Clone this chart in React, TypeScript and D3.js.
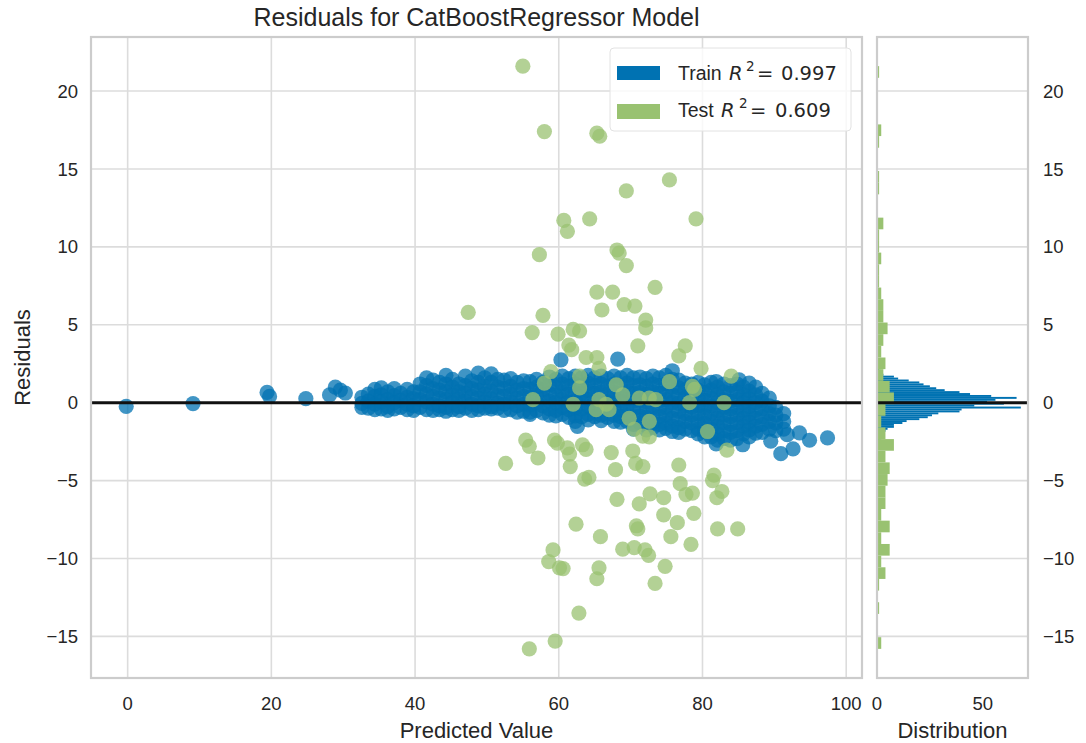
import React from "react";
import * as d3 from "d3";

// residuals: [predicted value, [residuals...]]
const trainColumns: [number, number[]][] = [
  [-0.2, [-0.24]], [9.1, [-0.06]], [19.4, [0.66]], [19.75, [0.4]], [24.8, [0.26]],
  [28.1, [0.5]], [28.9, [1.0]], [29.6, [0.8]], [30.3, [0.62]],
  [32.6, [0.35, -0.05, -0.3]],
  [33.5, [0.55, 0.1, -0.35]],
  [34.4, [0.85, 0.4, -0.1, -0.45]],
  [35.3, [0.95, 0.5, 0.05, -0.4]],
  [36.2, [0.7, 0.2, -0.25, -0.5]],
  [37.1, [0.9, 0.45, 0.0, -0.4]],
  [38.0, [0.6, 0.15, -0.3]],
  [38.9, [0.85, 0.35, -0.1, -0.45]],
  [39.8, [0.7, 0.25, -0.2, -0.5]],
  [40.7, [1.2, 0.7, 0.2, -0.3]],
  [41.6, [1.6, 1.1, 0.55, 0.05, -0.45]],
  [42.5, [1.45, 0.9, 0.4, -0.1, -0.5]],
  [43.4, [1.3, 0.8, 0.3, -0.2, -0.45]],
  [44.3, [1.75, 1.2, 0.7, 0.2, -0.3, -0.55]],
  [45.2, [1.5, 1.0, 0.5, 0.0, -0.45]],
  [46.1, [1.2, 0.7, 0.25, -0.25, -0.5]],
  [47.0, [1.7, 1.1, 0.6, 0.1, -0.35]],
  [47.9, [1.4, 0.9, 0.4, -0.1, -0.5]],
  [48.8, [1.9, 1.3, 0.8, 0.3, -0.2, -0.45]],
  [49.7, [1.6, 1.05, 0.55, 0.05, -0.35]],
  [50.6, [1.85, 1.3, 0.75, 0.25, -0.25, -0.4]],
  [51.5, [1.5, 1.0, 0.45, -0.05, -0.35]],
  [52.4, [1.45, 0.9, 0.4, -0.1, -0.5]],
  [53.3, [1.55, 1.05, 0.55, 0.05, -0.45]],
  [54.2, [1.3, 0.8, 0.3, -0.2, -0.6]],
  [55.1, [1.4, 0.9, 0.4, -0.1, -0.55]],
  [56.0, [1.35, 0.85, 0.35, -0.15, -0.6, -0.75]],
  [56.9, [1.5, 1.0, 0.5, 0.0, -0.5]],
  [57.8, [1.3, 0.8, 0.3, -0.2, -0.65]],
  [58.7, [1.65, 1.15, 0.6, 0.1, -0.4, -0.8]],
  [59.6, [1.5, 1.0, 0.5, 0.0, -0.5, -0.85]],
  [60.3, [2.75]],
  [60.5, [1.7, 1.2, 0.7, 0.2, -0.3, -0.75]],
  [61.4, [1.55, 1.05, 0.55, 0.05, -0.45, -0.95]],
  [62.3, [1.7, 1.2, 0.65, 0.15, -0.35, -0.85, -1.2]],
  [62.6, [-1.52]],
  [63.2, [1.6, 1.1, 0.6, 0.1, -0.4, -0.9]],
  [64.1, [1.75, 1.25, 0.75, 0.25, -0.25, -0.75, -1.1]],
  [65.0, [1.6, 1.1, 0.6, 0.1, -0.4, -0.9]],
  [65.9, [1.7, 1.2, 0.7, 0.2, -0.3, -0.8, -1.15]],
  [66.8, [1.55, 1.05, 0.55, 0.05, -0.45, -0.95]],
  [67.7, [1.7, 1.2, 0.7, 0.2, -0.3, -0.8, -1.2]],
  [68.2, [2.8]],
  [68.6, [1.6, 1.1, 0.6, 0.1, -0.4, -0.9, -1.25]],
  [69.5, [1.75, 1.25, 0.75, 0.25, -0.25, -0.75, -1.2]],
  [70.4, [1.6, 1.1, 0.6, 0.1, -0.4, -0.9, -1.4, -1.7]],
  [71.3, [1.65, 1.15, 0.65, 0.15, -0.35, -0.85, -1.3]],
  [72.2, [1.55, 1.05, 0.55, 0.05, -0.45, -0.95, -1.5, -1.75]],
  [73.1, [1.7, 1.2, 0.7, 0.2, -0.3, -0.8, -1.3, -1.6]],
  [74.0, [1.6, 1.1, 0.6, 0.1, -0.4, -0.9, -1.4, -1.75]],
  [74.9, [1.75, 1.2, 0.7, 0.2, -0.3, -0.8, -1.3, -1.65]],
  [75.8, [2.05, 1.5, 1.0, 0.5, 0.0, -0.5, -1.0, -1.5, -1.85]],
  [76.7, [1.45, 0.95, 0.45, -0.05, -0.55, -1.05, -1.6, -1.9]],
  [77.6, [1.25, 0.8, 0.3, -0.2, -0.7, -1.2, -1.7]],
  [78.5, [1.2, 0.7, 0.2, -0.3, -0.8, -1.3, -1.8]],
  [79.4, [1.3, 0.8, 0.3, -0.2, -0.7, -1.2, -1.7, -2.0]],
  [80.3, [1.15, 0.65, 0.15, -0.35, -0.85, -1.35, -1.85, -2.2]],
  [81.2, [1.3, 0.8, 0.3, -0.2, -0.7, -1.2, -1.7, -2.2]],
  [81.9, [1.36, -2.65]],
  [82.1, [1.0, 0.5, 0.0, -0.5, -1.0, -1.5, -2.0, -2.4]],
  [83.0, [1.2, 0.7, 0.2, -0.3, -0.8, -1.3, -1.8, -2.3]],
  [83.9, [1.1, 0.6, 0.1, -0.4, -0.9, -1.4, -1.9, -2.4]],
  [84.8, [1.2, 0.7, 0.2, -0.3, -0.8, -1.3, -1.8, -2.3]],
  [85.1, [1.47]],
  [85.6, [-2.7]],
  [85.7, [1.0, 0.5, 0.0, -0.5, -1.0, -1.5, -2.0]],
  [86.5, [1.26, 0.75, 0.25, -0.25, -0.75, -1.25, -1.75, -2.2]],
  [87.4, [1.0, 0.5, 0.0, -0.5, -1.0, -1.5, -1.95]],
  [88.3, [0.6, 0.1, -0.4, -0.9, -1.4, -1.9]],
  [89.3, [0.3, -0.2, -0.7, -1.2, -1.7]],
  [89.5, [-2.47]],
  [90.2, [-0.3, -0.8, -1.3, -1.8]],
  [90.9, [-3.27]],
  [91.3, [-0.7, -1.2, -1.7]],
  [91.8, [-2.05]],
  [92.6, [-2.97]],
  [93.5, [-1.94]],
  [94.9, [-2.41]],
  [97.4, [-2.26]],
];

const testPoints: [number, number][] = [
  [55.0, 21.6], [58.0, 17.4], [65.3, 17.3], [65.7, 17.1], [75.4, 14.3], [69.4, 13.6],
  [79.1, 11.8], [60.7, 11.7], [61.2, 11.0], [64.3, 11.8], [57.3, 9.5], [68.1, 9.8],
  [68.4, 9.6], [69.4, 8.8], [73.4, 7.4], [65.3, 7.1], [67.5, 7.1], [69.1, 6.3],
  [70.6, 6.2], [66.0, 5.95], [57.8, 5.6], [72.1, 5.3], [72.1, 4.8], [56.3, 4.5],
  [59.9, 4.4], [62.0, 4.7], [62.9, 4.6], [71.0, 3.65], [77.6, 3.65], [61.4, 3.7],
  [61.8, 3.4], [76.7, 3.0], [63.8, 2.9], [65.3, 2.9], [47.4, 5.8],
  [65.6, 2.2], [79.8, 2.2], [84.0, 1.7], [58.9, 2.0], [58.0, 1.25], [62.9, 1.7],
  [62.9, 0.95], [68.0, 1.15], [75.4, 1.35], [78.6, 1.05], [78.9, 0.85], [68.9, 0.5],
  [56.4, 0.2], [62.0, -0.1], [65.6, 0.2], [66.6, -0.1], [65.2, -0.45], [67.0, -0.45],
  [71.2, 0.3], [72.6, 0.3], [73.5, 0.2], [78.2, 0.0], [83.0, 0.0], [69.8, -1.0],
  [72.6, -1.2], [70.5, -1.7], [71.7, -2.15], [72.6, -2.2], [80.7, -1.85], [83.4, -3.05],
  [55.4, -2.4], [55.9, -2.8], [57.1, -3.55], [52.6, -3.9], [59.4, -2.4], [59.8, -2.6],
  [61.2, -2.9], [61.5, -3.3], [61.6, -4.1], [63.3, -2.7], [63.8, -3.0], [67.3, -3.2],
  [63.6, -4.9], [64.2, -4.8], [67.9, -4.3], [70.3, -3.1], [70.7, -3.9], [71.7, -4.1],
  [76.7, -4.0], [76.9, -5.2], [77.7, -5.9], [78.6, -5.8], [81.6, -4.65], [81.4, -5.0],
  [82.7, -5.7], [82.0, -6.1], [68.1, -6.2], [71.2, -6.5], [72.7, -5.85], [74.6, -6.1],
  [74.6, -7.2], [78.8, -7.1], [76.5, -7.7], [62.4, -7.8], [70.8, -7.9], [71.0, -8.1],
  [75.6, -8.6], [82.1, -8.1], [84.9, -8.1], [65.8, -8.6], [78.4, -9.1], [68.9, -9.4],
  [70.5, -9.3], [72.0, -9.45], [72.5, -9.8], [59.2, -9.45], [58.6, -10.2], [60.1, -10.6],
  [60.6, -10.65], [65.6, -10.6], [65.3, -11.3], [74.8, -10.5], [73.4, -11.6], [62.8, -13.5],
  [59.5, -15.3], [55.9, -15.8],
];

// train residual histogram (50 bins, lowest bin first)
const trainResMin = -3.35;
const trainResMax = 2.85;
const trainHistCounts = [
  1, 1, 0, 1, 0, 1, 1, 1, 2, 2, 3, 3, 4, 5, 8, 8, 12, 14, 20, 24,
  26, 29, 39, 40, 68, 46, 60, 52, 56, 66, 54, 44, 39, 32, 28, 25, 22, 20, 15, 10,
  8, 3, 2, 2, 1, 1, 0, 1, 0, 1,
];

const xTicks = [0, 20, 40, 60, 80, 100];
const yTicks = [-15, -10, -5, 0, 5, 10, 15, 20];
const histTicks = [0, 50];
const trainScore = "0.997";
const testScore = "0.609";

const BLUE = "#0072B2";
const GREEN = "#99c271";
const GRID = "#dcdcdc";
const SPINE = "#cccccc";
const TEXT = "#262626";
const FONT = "'Liberation Sans', Arial, sans-serif";
const MATH = "'DejaVu Sans', sans-serif";

export default function App() {
  const m = { left: 91, right: 862, top: 37, bottom: 678 };
  const h = { left: 877, right: 1028 };

  const x = d3.scaleLinear().domain([-5.1, 102.2]).range([m.left, m.right]);
  const y = d3.scaleLinear().domain([-17.67, 23.47]).range([m.bottom, m.top]);
  const hx = d3.scaleLinear().domain([0, 71.4]).range([h.left, h.right]);

  const train = trainColumns.flatMap(([p, rs]) => rs.map((r) => [p, r] as [number, number]));

  const step = (trainResMax - trainResMin) / trainHistCounts.length;
  const trainBins = trainHistCounts.map((c, i) => ({
    x0: trainResMin + i * step,
    x1: trainResMin + (i + 1) * step,
    n: c,
  }));

  const testRes = testPoints.map((d) => d[1]);
  const lo = d3.min(testRes) as number;
  const hi = d3.max(testRes) as number;
  const testBins = d3
    .bin()
    .domain([lo, hi])
    .thresholds(d3.range(1, 50).map((i) => lo + (i * (hi - lo)) / 50))(testRes);

  return (
    <svg width={1086} height={743} style={{ position: "absolute", left: 0, top: 0, background: "#fff" }}>
      <text x={(m.left + m.right) / 2} y={26} textAnchor="middle" fontFamily={FONT} fontSize={25} fill={TEXT}>
        Residuals for CatBoostRegressor Model
      </text>

      {/* main panel grid */}
      {xTicks.map((t) => (
        <line key={"gx" + t} x1={x(t)} x2={x(t)} y1={m.top} y2={m.bottom} stroke={GRID} strokeWidth={1.6} />
      ))}
      {yTicks.map((t) => (
        <line key={"gy" + t} x1={m.left} x2={m.right} y1={y(t)} y2={y(t)} stroke={GRID} strokeWidth={1.6} />
      ))}

      <g>
        {train.map((d, i) => (
          <circle key={"tr" + i} cx={x(d[0])} cy={y(d[1])} r={7.6} fill={BLUE} fillOpacity={0.75} />
        ))}
      </g>
      <g>
        {testPoints.map((d, i) => (
          <circle key={"te" + i} cx={x(d[0])} cy={y(d[1])} r={7.6} fill={GREEN} fillOpacity={0.75} />
        ))}
      </g>
      <line x1={m.left} x2={m.right} y1={y(0)} y2={y(0)} stroke="#111" strokeWidth={3} />
      <rect x={m.left} y={m.top} width={m.right - m.left} height={m.bottom - m.top} fill="none" stroke={SPINE} strokeWidth={2.2} />

      {/* legend */}
      <rect x={610} y={48} width={241} height={83} rx={4} fill="#fff" fillOpacity={0.8} stroke="#e2e2e2" />
      <rect x={617} y={66} width={43} height={14} fill={BLUE} />
      <rect x={617} y={104} width={43} height={15} fill={GREEN} />
      <text y={80} fontSize={19.5} fill={TEXT}>
        <tspan x={678} fontFamily={FONT}>Train</tspan>
        <tspan x={729} fontFamily={MATH} fontStyle="italic">R</tspan>
        <tspan x={746} y={71} fontFamily={MATH} fontSize={13.5}>2</tspan>
        <tspan x={757} y={80} fontFamily={MATH}>=</tspan>
        <tspan x={781} fontFamily={MATH}>{trainScore}</tspan>
      </text>
      <text y={117} fontSize={19.5} fill={TEXT}>
        <tspan x={678} fontFamily={FONT}>Test</tspan>
        <tspan x={721} fontFamily={MATH} fontStyle="italic">R</tspan>
        <tspan x={739} y={108} fontFamily={MATH} fontSize={13.5}>2</tspan>
        <tspan x={750} y={117} fontFamily={MATH}>=</tspan>
        <tspan x={775} fontFamily={MATH}>{testScore}</tspan>
      </text>

      {/* main axes ticks and labels */}
      {xTicks.map((t) => (
        <text key={"xt" + t} x={x(t)} y={710} textAnchor="middle" fontFamily={FONT} fontSize={18.5} fill={TEXT}>
          {t}
        </text>
      ))}
      {yTicks.map((t) => (
        <text key={"yt" + t} x={78} y={y(t) + 6.6} textAnchor="end" fontFamily={FONT} fontSize={18.5} fill={TEXT}>
          {t < 0 ? "\u2212" + Math.abs(t) : t}
        </text>
      ))}
      <text x={(m.left + m.right) / 2} y={738} textAnchor="middle" fontFamily={FONT} fontSize={22} fill={TEXT}>
        Predicted Value
      </text>
      <text
        transform={`translate(29.5,${(m.top + m.bottom) / 2}) rotate(-90)`}
        textAnchor="middle"
        fontFamily={FONT}
        fontSize={22}
        fill={TEXT}
      >
        Residuals
      </text>

      {/* distribution panel */}
      {yTicks.map((t) => (
        <line key={"hg" + t} x1={h.left} x2={h.right} y1={y(t)} y2={y(t)} stroke={GRID} strokeWidth={1.6} />
      ))}
      {trainBins.map((b, i) => (
        <rect key={"hb" + i} x={hx(0)} y={y(b.x1)} width={hx(b.n) - hx(0)} height={y(b.x0) - y(b.x1)} fill={BLUE} />
      ))}
      {testBins.map((b, i) => (
        <rect
          key={"hg" + i}
          x={hx(0)}
          y={y(b.x1 as number)}
          width={hx(b.length) - hx(0)}
          height={y(b.x0 as number) - y(b.x1 as number)}
          fill={GREEN}
        />
      ))}
      <line x1={h.left} x2={h.right} y1={y(0)} y2={y(0)} stroke="#111" strokeWidth={3} />
      <rect x={h.left} y={m.top} width={h.right - h.left} height={m.bottom - m.top} fill="none" stroke={SPINE} strokeWidth={2.2} />
      {histTicks.map((t) => (
        <text key={"ht" + t} x={hx(t)} y={710} textAnchor="middle" fontFamily={FONT} fontSize={18.5} fill={TEXT}>
          {t}
        </text>
      ))}
      {yTicks.map((t) => (
        <text key={"hy" + t} x={1043} y={y(t) + 6.6} fontFamily={FONT} fontSize={18.5} fill={TEXT}>
          {t < 0 ? "\u2212" + Math.abs(t) : t}
        </text>
      ))}
      <text x={(h.left + h.right) / 2} y={738} textAnchor="middle" fontFamily={FONT} fontSize={22} fill={TEXT}>
        Distribution
      </text>
    </svg>
  );
}
